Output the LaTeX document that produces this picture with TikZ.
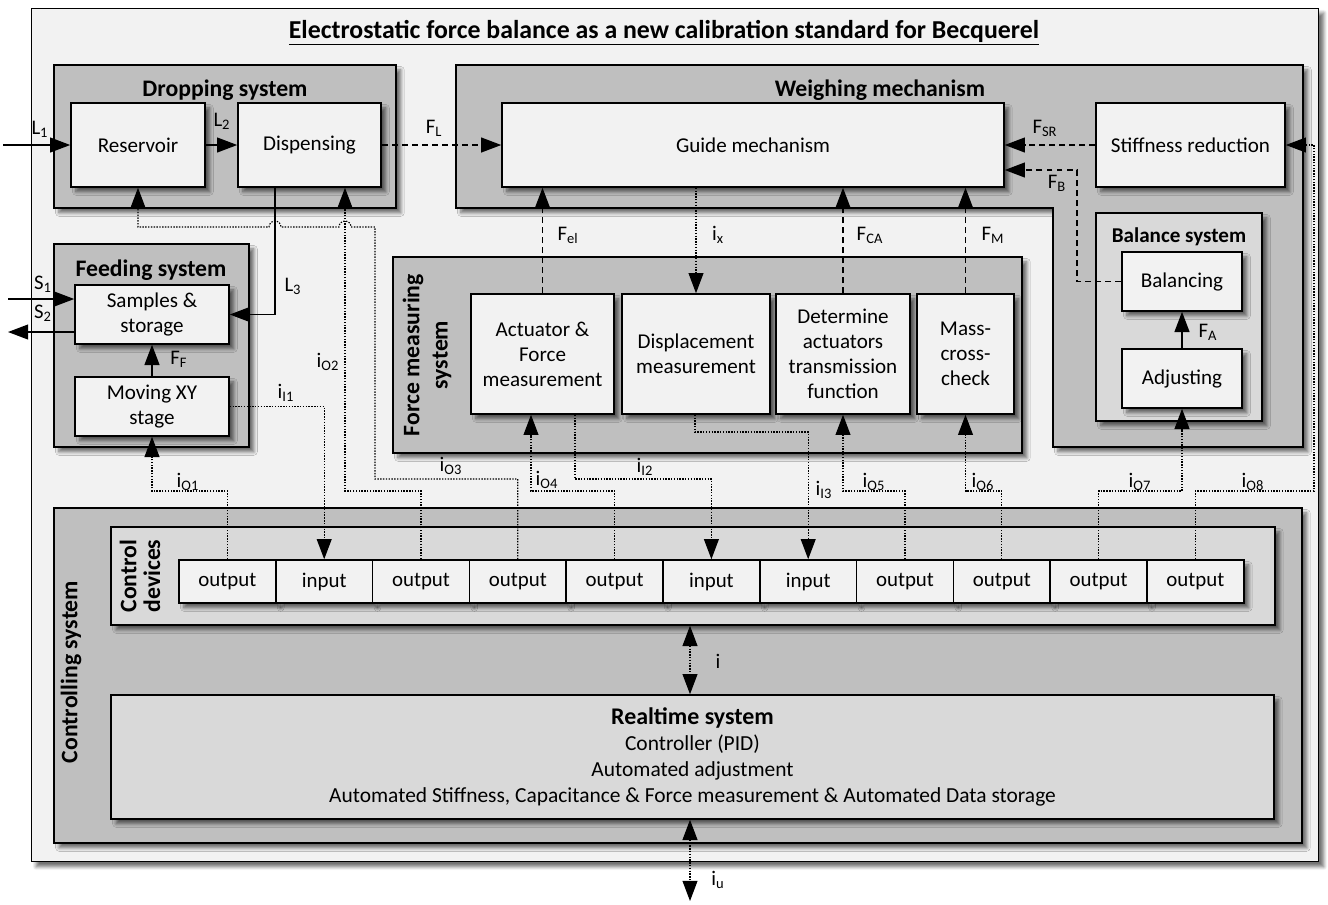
\documentclass[tikz,border=0pt]{standalone}
\usepackage{fontspec}
\setmainfont{Carlito}
\usetikzlibrary{positioning}
\usetikzlibrary{arrows.meta}
\usetikzlibrary{shadows.blur}
\definecolor{bglight}{HTML}{F2F2F2}
\definecolor{grpdark}{HTML}{BFBFBF}
\definecolor{grpmid}{HTML}{D9D9D9}
\tikzset{
    myshadow/.style = {blur shadow={shadow xshift=2.8pt,shadow yshift=-2.8pt,shadow blur steps=7,shadow opacity=55}},
    mybox/.style = {rectangle, line width=0.9pt, draw=black, fill=bglight, align=center, myshadow, font=\fontsize{12}{14.2}\selectfont},
    mygroup/.style = {rectangle, line width=0.9pt, draw=black, fill=grpdark, myshadow},
    mygroupl/.style = {rectangle, line width=0.9pt, draw=black, fill=grpmid, myshadow},
    myslot/.style = {rectangle, line width=0.9pt, draw=black, fill=bglight, minimum width=1.936cm, minimum height=0.86cm, font=\fontsize{11.9}{13}\selectfont, myshadow},
    grouplabel/.style = {font=\fontsize{13.5}{16}\selectfont\bfseries, align=center, inner sep=0pt},
    lab/.style = {font=\fontsize{11.8}{13}\selectfont, inner sep=0pt},
    edgen/.style = {-{Triangle[length=11.5pt,width=8.5pt,fill=black]}, line width=0.8pt},
    edgef/.style = {-{Triangle[length=11.5pt,width=8.5pt,fill=black]}, line width=0.8pt, dash pattern=on 3.4pt off 2.3pt}, % force
    edges/.style = {-{Triangle[length=11.5pt,width=8.5pt,fill=black]}, line width=0.65pt, dash pattern=on 0.8pt off 0.8pt}, % signal
    edgesb/.style = {{Triangle[length=11.5pt,width=8.5pt,fill=black]}-{Triangle[length=11.5pt,width=8.5pt,fill=black]}, line width=0.65pt, dash pattern=on 0.8pt off 0.8pt}, % both ways
}

\begin{document}
\begin{tikzpicture}[x=0.02cm,y=-0.02cm]
\useasboundingbox (0,0) rectangle (1328,904);

% frame and title
\node[rectangle, draw=black, line width=0.6pt, fill=bglight, myshadow, minimum width=25.76cm, minimum height=17.08cm] at (675,435) (frame) {};
\node[font=\fontsize{14.7}{16}\selectfont\bfseries] at (664,33) (title) {\underline{Electrostatic force balance as a new calibration standard for Becquerel}};

% dropping system
\node[mygroup, minimum width=6.84cm, minimum height=2.86cm] at (225,136.5) (dropsys) {};
\node[grouplabel] at (225,90) (ldrop) {Dropping system};
\node[mybox, minimum width=2.68cm, minimum height=1.68cm] at (138,145) (res) {Reservoir};
\node[mybox, minimum width=2.86cm, minimum height=1.68cm] at (309.5,145) (disp) {Dispensing};

% feeding system
\node[mygroup, minimum width=3.9cm, minimum height=4.06cm] at (151.5,345.5) (feedsys) {};
\node[grouplabel] at (151,270) (lfeed) {Feeding system};
\node[mybox, minimum width=3.08cm, minimum height=1.18cm] at (152,314.5) (samp) {Samples \&\\storage};
\node[mybox, minimum width=3.08cm, minimum height=1.18cm] at (152,406.5) (xy) {Moving XY\\stage};

% weighing mechanism
\draw[line width=0.9pt, fill=grpdark, myshadow] (456,65) -- (1303,65) -- (1303,447) -- (1053,447) -- (1053,208) -- (456,208) -- cycle;
\node[grouplabel] at (880,90) (lweigh) {Weighing mechanism};
\node[mybox, minimum width=10.04cm, minimum height=1.68cm] at (753,145) (guide) {Guide mechanism};
\node[mybox, minimum width=3.78cm, minimum height=1.68cm] at (1190.5,145) (stiff) {Stiffness reduction};

% balance system
\node[mygroupl, minimum width=3.32cm, minimum height=4.16cm] at (1179,317) (balsys) {};
\node[grouplabel, font=\fontsize{12}{14}\selectfont\bfseries] at (1179,237) (lbal) {Balance system};
\node[mybox, minimum width=2.4cm, minimum height=1.18cm] at (1182,281.5) (balancing) {Balancing};
\node[mybox, minimum width=2.4cm, minimum height=1.18cm] at (1182,378.5) (adjusting) {Adjusting};

% force measuring system
\node[mygroup, minimum width=12.58cm, minimum height=3.92cm] at (707.5,355) (forcesys) {};
\node[grouplabel, rotate=90] at (427,355) (lforce) {Force measuring\\system};
\node[mybox, minimum width=2.86cm, minimum height=2.4cm] at (542.5,354) (act) {Actuator \&\\Force\\measurement};
\node[mybox, minimum width=2.96cm, minimum height=2.4cm] at (696,354) (displ) {Displacement\\measurement};
\node[mybox, minimum width=2.68cm, minimum height=2.4cm] at (843,354) (determ) {Determine\\actuators\\transmission\\function};
\node[mybox, minimum width=1.94cm, minimum height=2.4cm] at (965.5,354) (mass) {Mass-\\cross-\\check};

% controlling system
\node[mygroup, minimum width=24.96cm, minimum height=6.7cm] at (678,675.5) (ctrlsys) {};
\node[grouplabel, rotate=90] at (71,672) (lctrl) {Controlling system};
\node[mygroupl, minimum width=23.28cm, minimum height=1.96cm] at (693,576) (ctrldev) {};
\node[grouplabel, rotate=90, font=\fontsize{13.5}{13.5}\selectfont\bfseries] at (140,576) (ldev) {Control\\devices};
\foreach \lab [count=\k] in {output,input,output,output,output,input,input,output,output,output,output}
  \node[myslot] at ({179+96.8*(\k-0.5)},581.5) (s\k) {\lab};
\node[mygroupl, minimum width=23.26cm, minimum height=2.48cm, align=center, font=\fontsize{12.2}{14.8}\selectfont] at (692.5,757) (rt)
  {{\fontsize{13.6}{14.8}\selectfont\bfseries Realtime system}\\Controller (PID)\\Automated adjustment\\Automated Stiffness, Capacitance \& Force measurement \& Automated Data storage};

% coordinates
\coordinate (l1in) at (3,145);
\coordinate (s1in) at (8,299);
\coordinate (s2out) at (8,332);
\coordinate (l3a) at (275,187);
\coordinate (l3b) at (275,314.5);
\coordinate (fb) at (1077,170);
\coordinate (o1) at (152,491);
\coordinate (o2) at (345,491);
\coordinate (o3a) at (375,479);
\coordinate (o3b) at (375,227);
\coordinate (o4) at (531,491);
\coordinate (o5) at (843,491);
\coordinate (o6) at (965.5,491);
\coordinate (o7) at (1182,491);
\coordinate (o8) at (1314,491);
\coordinate (i2) at (575,479);
\coordinate (i3) at (695,432);
\coordinate (ix) at (690,660);
\coordinate (iu) at (690,901);

% material flow
\draw[edgen] (l1in) -- (res.west);
\draw[edgen] (res.east) -- (disp.west);
\draw[edgen] (l3a) -- (l3b) -- (samp.east);
\draw[edgen] (s1in) -- (s1in -| samp.west);
\draw[edgen] (samp.west |- s2out) -- (s2out);
\draw[edgen] (xy.north) -- (samp.south);
\draw[edgen] (adjusting.north) -- (balancing.south);

% forces
\draw[edgef] (disp.east) -- (guide.west);
\draw[edgef] (stiff.west) -- (guide.east);
\draw[edgef] (balancing.west) -| (fb) -- (fb -| guide.east);
\draw[edgef] (act.north) -- (act.north |- guide.south);
\draw[edgef] (determ.north) -- (determ.north |- guide.south);
\draw[edgef] (mass.north) -- (mass.north |- guide.south);

% signals
\draw[edges] (displ.north |- guide.south) -- (displ.north);
\draw[edges] (s1.north) |- (o1) -- (xy.south);
\draw[edges] (xy.east) -| (s2.north);
\draw[edges] (s3.north) |- (o2) -- (o2 |- disp.south);
\draw[edges] (s4.north) |- (o3a) -- (o3b) -- (351,227) arc[start angle=0,end angle=180,radius=0.12cm] -- (281,227) arc[start angle=0,end angle=180,radius=0.12cm] -- (res.south |- o3b) -- (res.south);
\draw[edges] (s5.north) |- (o4) -- (act.south -| o4);
\draw[edges] (act.south -| i2) -- (i2) -| (s6.north);
\draw[edges] (displ.south -| i3) -- (i3) -| (s7.north);
\draw[edges] (s8.north) |- (o5) -- (determ.south);
\draw[edges] (s9.north) |- (o6) -- (mass.south);
\draw[edges] (s10.north) |- (o7) -- (adjusting.south);
\draw[edges] (s11.north) |- (o8) |- (stiff.east);
\draw[edgesb] (ix |- ctrldev.south) -- (ix |- rt.north);
\draw[edgesb] (iu |- rt.south) -- (iu);

% labels
\node[lab] at (40,129) (tl1) {L\textsubscript{1}};
\node[lab] at (222,121) (tl2) {L\textsubscript{2}};
\node[lab] at (293,286) (tl3) {L\textsubscript{3}};
\node[lab] at (43,284) (ts1) {S\textsubscript{1}};
\node[lab] at (43,313) (ts2) {S\textsubscript{2}};
\node[lab] at (179,359) (tff) {F\textsubscript{F}};
\node[lab] at (434,128) (tfl) {F\textsubscript{L}};
\node[lab] at (568,235) (tfel) {F\textsubscript{el}};
\node[lab] at (718,235) (tix) {i\textsubscript{x}};
\node[lab] at (870,235) (tfca) {F\textsubscript{CA}};
\node[lab] at (993,235) (tfm) {F\textsubscript{M}};
\node[lab] at (1045,128) (tfsr) {F\textsubscript{SR}};
\node[lab] at (1057,183) (tfb) {F\textsubscript{B}};
\node[lab] at (1208,332) (tfa) {F\textsubscript{A}};
\node[lab] at (188,482) (to1) {i\textsubscript{O1}};
\node[lab] at (286,393) (ti1) {i\textsubscript{I1}};
\node[lab] at (328,362) (to2) {i\textsubscript{O2}};
\node[lab] at (451,466) (to3) {i\textsubscript{O3}};
\node[lab] at (547,480) (to4) {i\textsubscript{O4}};
\node[lab] at (645,467) (ti2) {i\textsubscript{I2}};
\node[lab] at (824,490) (ti3) {i\textsubscript{I3}};
\node[lab] at (874,482) (to5) {i\textsubscript{O5}};
\node[lab] at (983,482) (to6) {i\textsubscript{O6}};
\node[lab] at (1140,482) (to7) {i\textsubscript{O7}};
\node[lab] at (1253,482) (to8) {i\textsubscript{O8}};
\node[lab] at (718,661) (ti) {i};
\node[lab] at (718,880) (tiu) {i\textsubscript{u}};

\end{tikzpicture}
\end{document}
